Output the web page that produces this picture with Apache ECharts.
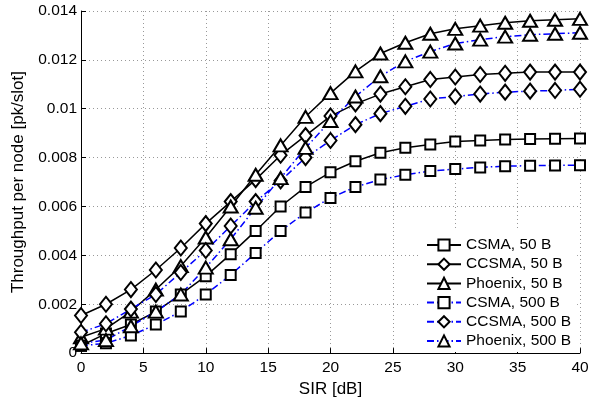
<!DOCTYPE html>
<html>
<head>
<meta charset="utf-8">
<script src="https://cdn.jsdelivr.net/npm/echarts@6/dist/echarts.min.js"></script>
<style>
html,body{margin:0;padding:0;background:#fff;}
#chart{width:601px;height:403px;}
</style>
</head>
<body>
<div id="chart"></div>
<script>
const sir = [0,2,4,6,8,10,12,14,16,18,20,22,24,26,28,30,32,34,36,38,40];
const xTicks = [0,5,10,15,20,25,30,35,40];
const yTicks = [0,0.002,0.004,0.006,0.008,0.010,0.012,0.014];

const csma50 = [0.0003,0.0008,0.00117,0.0017,0.0024,0.00315,0.00405,0.0050,0.0060,0.0068,0.0074,0.00785,0.0082,0.0084,0.00854,0.00866,0.0087,0.00874,0.00876,0.00877,0.00878];
const ccsma50 = [0.00154,0.0020,0.0026,0.0034,0.0043,0.0053,0.0062,0.0071,0.0081,0.0089,0.0097,0.0102,0.0106,0.0109,0.0112,0.0113,0.0114,0.01145,0.0115,0.0115,0.0115];
const phoenix50 = [0.00065,0.0010,0.0017,0.0026,0.00356,0.00473,0.0060,0.0073,0.0085,0.00967,0.01064,0.01153,0.01226,0.0127,0.01307,0.01327,0.0134,0.01352,0.0136,0.01364,0.01368];
const csma500 = [0.0003,0.0004,0.00072,0.00117,0.0017,0.0024,0.0032,0.0041,0.0050,0.00575,0.00635,0.0068,0.0071,0.0073,0.00745,0.00753,0.0076,0.00765,0.00767,0.00768,0.00769];
const ccsma500 = [0.00085,0.0012,0.0018,0.0024,0.0033,0.0042,0.0052,0.0062,0.00705,0.0080,0.0087,0.00935,0.0098,0.0101,0.0104,0.0105,0.0106,0.01068,0.01072,0.01075,0.0108];
const phoenix500 = [0.0004,0.00053,0.0011,0.0017,0.0024,0.0035,0.00466,0.00595,0.00716,0.0084,0.0095,0.0105,0.01133,0.01194,0.01234,0.01267,0.01283,0.01295,0.01303,0.01307,0.01311];

const names = ['CSMA, 50 B','CCSMA, 50 B','Phoenix, 50 B','CSMA, 500 B','CCSMA, 500 B','Phoenix, 500 B'];
const values = [csma50, ccsma50, phoenix50, csma500, ccsma500, phoenix500];
const symbols = ['rect','diamond','triangle','rect','diamond','triangle'];
const sizes = [[10,10],[12,15],[14,12],[10,10],[12,15],[14,12]];

const FONT = '"Liberation Sans", Arial, Helvetica, sans-serif';

const series = names.map((n, i) => {
  const blue = i >= 3;
  return {
    name: n,
    type: 'line',
    data: sir.map((x, k) => [x, values[i][k]]),
    symbol: symbols[i],
    symbolSize: sizes[i],
    showAllSymbol: true,
    animation: false,
    lineStyle: blue ? {color: '#0000ff', width: 1.5, type: [7,3,1.5,3]} : {color: '#000', width: 1.5, type: 'solid'},
    itemStyle: {color: '#fff', borderColor: '#000', borderWidth: 2},
    emphasis: {disabled: true}
  };
});

const chart = echarts.init(document.getElementById('chart'), null, {renderer: 'canvas'});
chart.setOption({
  backgroundColor: '#fff',
  animation: false,
  textStyle: {fontFamily: FONT},
  grid: {left: 81, right: 21, top: 11, bottom: 46, containLabel: false},
  xAxis: {
    type: 'value', min: xTicks[0], max: xTicks[xTicks.length-1], interval: 5,
    name: 'SIR [dB]', nameLocation: 'middle', nameGap: 22,
    nameTextStyle: {fontSize: 17, color: '#000', fontFamily: FONT},
    axisLine: {show: true, onZero: false, lineStyle: {color: '#000', width: 1}},
    axisTick: {show: true, inside: true, length: 5, lineStyle: {color: '#000'}},
    axisLabel: {fontSize: 15.5, color: '#000', margin: 7, fontFamily: FONT},
    splitLine: {show: true, lineStyle: {color: '#999', width: 1, type: [1,3]}}
  },
  yAxis: {
    type: 'value', min: yTicks[0], max: yTicks[yTicks.length-1], interval: 0.002,
    name: 'Throughput per node [pk/slot]', nameLocation: 'middle', nameGap: 42,
    nameTextStyle: {fontSize: 17, color: '#000', fontFamily: FONT},
    axisLine: {show: true, onZero: false, lineStyle: {color: '#000', width: 1}},
    axisTick: {show: true, inside: true, length: 5, lineStyle: {color: '#000'}},
    axisLabel: {fontSize: 15.5, color: '#000', margin: 4, fontFamily: FONT,
      formatter: v => (Math.abs(v) < 1e-12 ? '0' : (+v.toFixed(3)).toString())},
    splitLine: {show: true, lineStyle: {color: '#999', width: 1, type: [1,3]}}
  },
  legend: {
    orient: 'vertical', left: 420, top: 231,
    padding: [6,6,3,6],
    backgroundColor: '#fff',
    itemWidth: 34, itemHeight: 14, itemGap: 3.2,
    textStyle: {fontSize: 15.5, color: '#000', fontFamily: FONT, lineHeight: 14},
    data: names
  },
  series: series
});
</script>
</body>
</html>
